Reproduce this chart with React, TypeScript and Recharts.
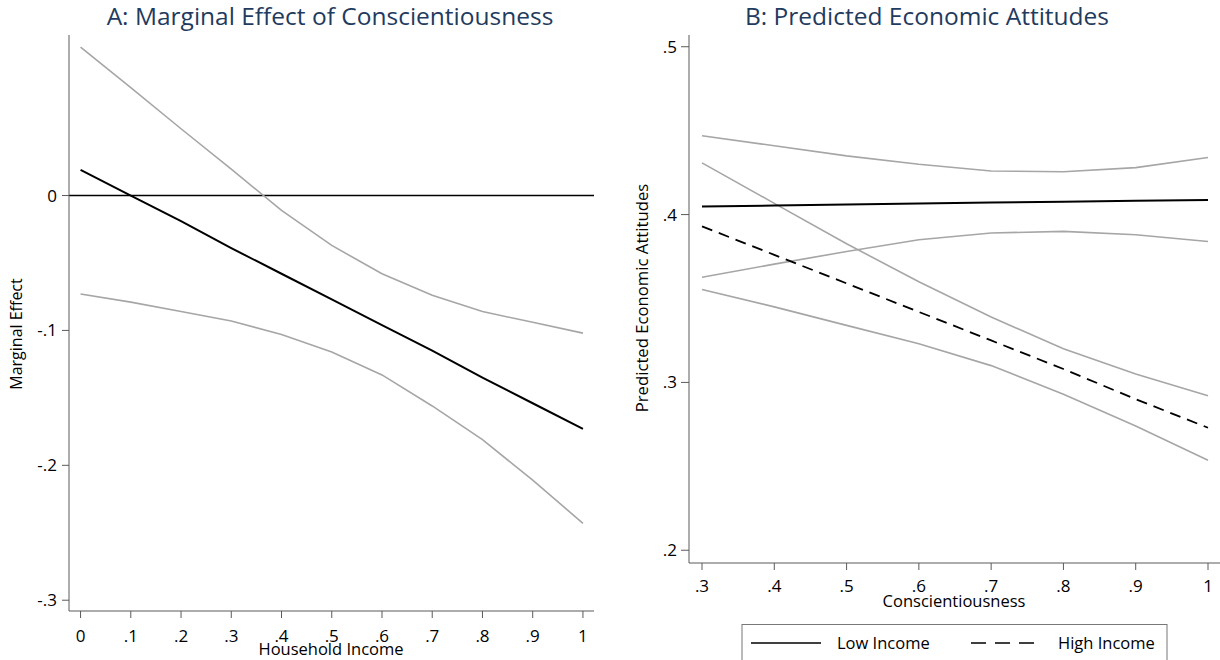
import { LineChart, Line, XAxis, YAxis, ReferenceLine } from "recharts";

// Panel A: marginal effect of conscientiousness across household income
const incomeLevels = [0, 0.1, 0.2, 0.3, 0.4, 0.5, 0.6, 0.7, 0.8, 0.9, 1];
const marginalEffect = [0.019, 0.0, -0.019, -0.039, -0.058, -0.077, -0.096, -0.115, -0.135, -0.154, -0.173];
const effectUpper = [0.11, 0.08, 0.0495, 0.0195, -0.011, -0.037, -0.058, -0.074, -0.086, -0.094, -0.102];
const effectLower = [-0.073, -0.079, -0.086, -0.093, -0.103, -0.116, -0.133, -0.156, -0.181, -0.211, -0.243];

// Panel B: predicted economic attitudes across conscientiousness
const conscLevels = [0.3, 0.4, 0.5, 0.6, 0.7, 0.8, 0.9, 1];
const lowIncome = [0.4048, 0.4054, 0.406, 0.4066, 0.4072, 0.4077, 0.4082, 0.4087];
const lowUpper = [0.447, 0.441, 0.435, 0.43, 0.426, 0.4255, 0.428, 0.434];
const lowLower = [0.3627, 0.3705, 0.378, 0.385, 0.389, 0.39, 0.388, 0.384];
const highIncome = [0.393, 0.376, 0.359, 0.342, 0.325, 0.308, 0.29, 0.273];
const highUpper = [0.4308, 0.4067, 0.3826, 0.36, 0.339, 0.32, 0.305, 0.292];
const highLower = [0.3554, 0.345, 0.334, 0.323, 0.31, 0.293, 0.274, 0.2536];

const incomeTicks = [0, 0.1, 0.2, 0.3, 0.4, 0.5, 0.6, 0.7, 0.8, 0.9, 1];
const effectTicks = [-0.3, -0.2, -0.1, 0];
const conscTicks = [0.3, 0.4, 0.5, 0.6, 0.7, 0.8, 0.9, 1];
const attitudeTicks = [0.2, 0.3, 0.4, 0.5];

const panelA = incomeLevels.map((x, i) => ({
  x,
  me: marginalEffect[i],
  hi: effectUpper[i],
  lo: effectLower[i],
}));

const panelB = conscLevels.map((x, i) => ({
  x,
  low: lowIncome[i],
  lowHi: lowUpper[i],
  lowLo: lowLower[i],
  high: highIncome[i],
  highHi: highUpper[i],
  highLo: highLower[i],
}));

const FONT = "'Open Sans', sans-serif";
const AXIS = "#5a5a5a";
const CI = "#a6a6a6";
const TITLE = "#1f3b5e";

// stata style: ".3", "-.1", "0", "1"
const fmt = (v: number) => String(Number(v.toFixed(1))).replace(/^(-?)0\./, "$1.");

const tickStyle = { fill: "#000", fontSize: 17, fontFamily: FONT };

export default function App() {
  return (
    <div
      style={{
        position: "absolute",
        left: 0,
        top: 0,
        width: 1220,
        height: 660,
        background: "#fff",
        fontFamily: FONT,
        overflow: "hidden",
      }}
    >
      <div style={{ position: "absolute", left: 0, top: 0 }}>
        <LineChart width={600} height={660} data={panelA} margin={{ top: 35, right: 6, left: 0, bottom: 19 }}>
          <XAxis
            dataKey="x"
            type="number"
            domain={[-0.023, 1.022]}
            ticks={incomeTicks}
            tickFormatter={fmt}
            allowDataOverflow
            height={30}
            tick={tickStyle}
            tickSize={7}
            tickMargin={12}
            stroke={AXIS}
          />
          <YAxis
            type="number"
            domain={[-0.308, 0.119]}
            ticks={effectTicks}
            tickFormatter={fmt}
            allowDataOverflow
            width={69}
            tick={tickStyle}
            tickSize={7}
            tickMargin={5}
            stroke={AXIS}
          />
          <ReferenceLine y={0} stroke="#000" strokeWidth={1.5} />
          <Line type="linear" dataKey="hi" stroke={CI} strokeWidth={1.6} dot={false} isAnimationActive={false} />
          <Line type="linear" dataKey="lo" stroke={CI} strokeWidth={1.6} dot={false} isAnimationActive={false} />
          <Line type="linear" dataKey="me" stroke="#000" strokeWidth={2} dot={false} isAnimationActive={false} />
        </LineChart>
      </div>

      <div style={{ position: "absolute", left: 600, top: 0 }}>
        <LineChart width={620} height={660} data={panelB} margin={{ top: 35, right: 0, left: 0, bottom: 67 }}>
          <XAxis
            dataKey="x"
            type="number"
            domain={[0.282, 1.0166]}
            ticks={conscTicks}
            tickFormatter={fmt}
            allowDataOverflow
            height={30}
            tick={tickStyle}
            tickSize={7}
            tickMargin={10}
            stroke={AXIS}
          />
          <YAxis
            type="number"
            domain={[0.1924, 0.507]}
            ticks={attitudeTicks}
            tickFormatter={fmt}
            allowDataOverflow
            width={89}
            tick={tickStyle}
            tickSize={8}
            tickMargin={4}
            stroke={AXIS}
          />
          <Line type="linear" dataKey="lowHi" stroke={CI} strokeWidth={1.6} dot={false} isAnimationActive={false} />
          <Line type="linear" dataKey="lowLo" stroke={CI} strokeWidth={1.6} dot={false} isAnimationActive={false} />
          <Line type="linear" dataKey="highHi" stroke={CI} strokeWidth={1.6} dot={false} isAnimationActive={false} />
          <Line type="linear" dataKey="highLo" stroke={CI} strokeWidth={1.6} dot={false} isAnimationActive={false} />
          <Line type="linear" dataKey="low" stroke="#000" strokeWidth={2} dot={false} isAnimationActive={false} />
          <Line
            type="linear"
            dataKey="high"
            stroke="#000"
            strokeWidth={1.8}
            strokeDasharray="11 7"
            dot={false}
            isAnimationActive={false}
          />
        </LineChart>
      </div>

      {/* titles, axis titles and legend */}
      <svg
        width={1220}
        height={660}
        style={{ position: "absolute", left: 0, top: 0, pointerEvents: "none" }}
        fontFamily={FONT}
      >
        <text x={330} y={25} textAnchor="middle" fontSize={24.5} fill={TITLE}>
          A: Marginal Effect of Conscientiousness
        </text>
        <text x={927} y={25} textAnchor="middle" fontSize={24.5} fill={TITLE}>
          B: Predicted Economic Attitudes
        </text>

        <text x={331} y={655} textAnchor="middle" fontSize={16.5} fill="#000">
          Household Income
        </text>
        <text x={954} y={607} textAnchor="middle" fontSize={16.5} fill="#000">
          Conscientiousness
        </text>
        <text x={22} y={334} textAnchor="middle" fontSize={16} fill="#000" transform="rotate(-90, 22, 334)">
          Marginal Effect
        </text>
        <text x={648} y={298} textAnchor="middle" fontSize={16.7} fill="#000" transform="rotate(-90, 648, 298)">
          Predicted Economic Attitudes
        </text>

        <rect x={742} y={624.5} width={425} height={50} fill="#fff" stroke="#777" strokeWidth={1} />
        <line x1={751} y1={643} x2={821} y2={643} stroke="#000" strokeWidth={1.6} />
        <text x={837} y={649} fontSize={16.5} fill="#000">
          Low Income
        </text>
        <line x1={971} y1={643} x2={1042} y2={643} stroke="#000" strokeWidth={1.6} strokeDasharray="15 9" />
        <text x={1058} y={649} fontSize={16.5} fill="#000">
          High Income
        </text>
      </svg>
    </div>
  );
}
